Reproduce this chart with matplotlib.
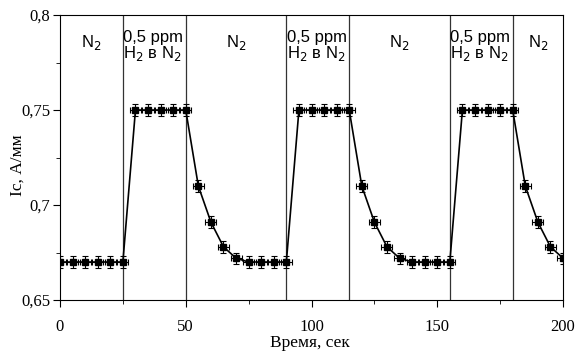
import numpy as np
from matplotlib import pyplot as plt
from matplotlib.ticker import MultipleLocator, FuncFormatter

# Данные
t = [0, 5, 10, 15, 20, 25, 30, 35, 40, 45, 50, 55, 60, 65, 70, 75, 80, 85, 90,
     95, 100, 105, 110, 115, 120, 125, 130, 135, 140, 145, 150, 155,
     160, 165, 170, 175, 180, 185, 190, 195, 200]
ic = [0.67, 0.67, 0.67, 0.67, 0.67, 0.67,
      0.75, 0.75, 0.75, 0.75, 0.75,
      0.71, 0.691, 0.678, 0.672, 0.67, 0.67, 0.67, 0.67,
      0.75, 0.75, 0.75, 0.75, 0.75,
      0.71, 0.691, 0.678, 0.672, 0.67, 0.67, 0.67, 0.67,
      0.75, 0.75, 0.75, 0.75, 0.75,
      0.71, 0.691, 0.678, 0.672]
t_err = 2.2
ic_err = 0.003

# Границы переключения газа
switch_t = [25, 50, 90, 115, 155, 180]
n2_pos = [12.5, 70, 135, 190]
h2_pos = [25, 90, 155]

plt.rcParams['font.family'] = 'Liberation Serif'

fig = plt.figure(figsize=(5.77, 3.54), dpi=100)
ax = fig.add_axes([60/577, 1 - 300/354, 503/577, 285/354])

for s in switch_t:
    ax.axvline(s, color='#333333', lw=0.9)

ax.errorbar(t, ic, xerr=t_err, yerr=ic_err, color='k', lw=1.2,
            marker='s', ms=4.5, elinewidth=0.8, capsize=2, capthick=0.8)

for p in n2_pos:
    ax.text(p, 0.7855, 'N$_2$', ha='center', va='center', fontsize=12,
            family='Liberation Sans')
for p in h2_pos:
    ax.text(p + 0.2, 0.7835, '0,5 ppm\nH$_2$ в N$_2$', ha='left', va='center',
            fontsize=12, family='Liberation Sans', linespacing=0.95)

ax.set_xlim(0, 200)
ax.set_ylim(0.65, 0.8)
ax.xaxis.set_major_locator(MultipleLocator(50))
ax.xaxis.set_minor_locator(MultipleLocator(25))
ax.yaxis.set_major_locator(MultipleLocator(0.05))
ax.yaxis.set_minor_locator(MultipleLocator(0.025))
ax.yaxis.set_major_formatter(FuncFormatter(lambda v, p: ('%g' % round(v, 3)).replace('.', ',')))
ax.tick_params(which='major', direction='out', length=5, labelsize=12)
ax.tick_params(which='minor', direction='out', length=3)
ax.tick_params(axis='x', which='major', pad=9)
ax.tick_params(axis='y', which='major', pad=2)

# подписи осей
fig.text(310/577, 1 - 343/354, 'Время, сек', ha='center', va='center', fontsize=12.5)
fig.text(18/577, 1 - 165/354, 'Ic, А/мм', ha='center', va='center', fontsize=12.5,
         rotation=90)

plt.savefig('out.png', dpi=100)
